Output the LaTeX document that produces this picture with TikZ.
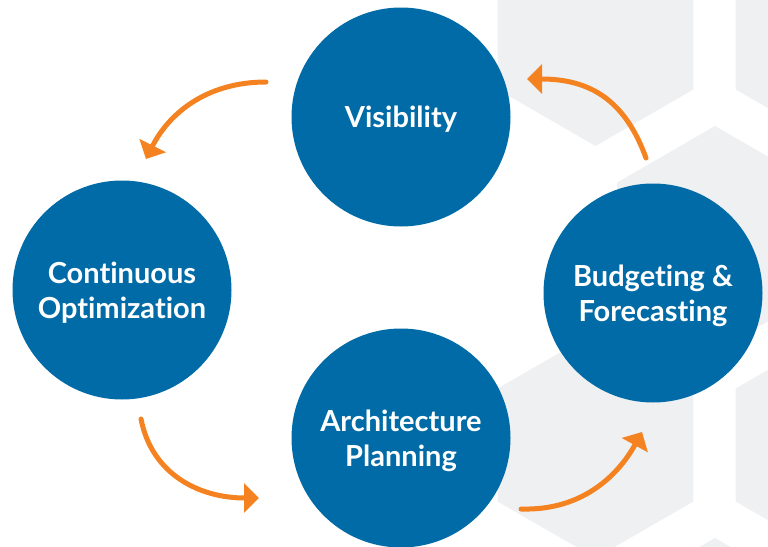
\documentclass[tikz,border=0pt]{standalone}
\usepackage{fontspec}
\setmainfont{Lato}[Ligatures=NoCommon]
\usetikzlibrary{arrows.meta}
\definecolor{phaseblue}{RGB}{0,107,166}
\definecolor{looporange}{RGB}{245,130,32}
\definecolor{hexgray}{RGB}{239,240,242}

\begin{document}
\begin{tikzpicture}[x=1pt,y=-1pt,
	phase/.style={circle,fill=phaseblue,minimum size=219pt,inner sep=0pt,
		text=white,align=center,text depth=0pt,
		font=\bfseries\fontsize{29}{35}\selectfont},
	looparrow/.style={looporange,line width=5pt,line cap=round,
		-{Triangle[length=15pt,width=29pt]}}]
	\useasboundingbox (0,0) rectangle (768,546);
	\clip (0,0) rectangle (768,546);
	% Background hexagons
	\foreach \hx/\hy in {595.5/33, 833.5/33, 715/239, 595.5/445, 833.5/445, 715/651}
		\fill[hexgray] (\hx,\hy) +(90:113) -- +(150:113) -- +(210:113)
			-- +(270:113) -- +(330:113) -- +(30:113) -- cycle;
	
	% Phases
	\node[phase] (vis) at (401,117) {Visibility};
	\node[phase] (opt) at (122,290) {Continuous\\Optimization};
	\node[phase] (arch) at (401,438) {Architecture\\Planning};
	\node[phase] (budget) at (653,293) {Budgeting \&\\Forecasting};
	
	% Arrow ends
	\coordinate (visout) at (266,82);
	\coordinate (optin) at (146,159);
	\coordinate (optout) at (141,419);
	\coordinate (archin) at (259,498);
	\coordinate (archout) at (521,509);
	\coordinate (budgetin) at (642,432);
	\coordinate (budgetout) at (646,158);
	\coordinate (visin) at (527,79);
	
	\draw[looparrow] (visout) .. controls (205,82) and (168,115) .. (optin);
	\draw[looparrow] (optout) .. controls (152,475) and (200,498) .. (archin);
	\draw[looparrow] (archout) .. controls (585,511) and (620,472) .. (budgetin);
	\draw[looparrow] (budgetout) .. controls (625,100) and (590,79) .. (visin);
\end{tikzpicture}
\end{document}
